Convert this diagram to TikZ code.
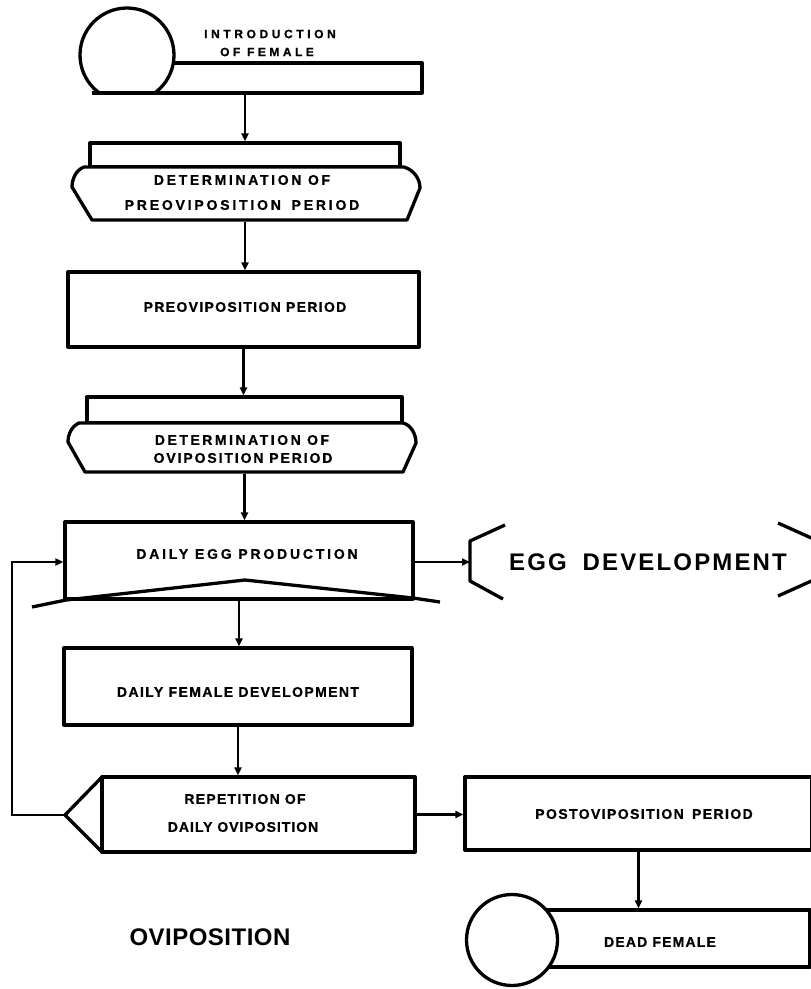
\documentclass[tikz,border=0pt]{standalone}
\usepackage{fontspec}
\newfontfamily\hvfont{Liberation Sans}[FakeBold=0.8]
\newfontfamily\hvbig{Liberation Sans}
\usetikzlibrary{arrows.meta}
% tracked (letter-spaced) caps
\newcommand\spc[2]{{\addfontfeature{LetterSpace=#1}#2}}

\begin{document}
\begin{tikzpicture}[x=1pt,y=-1pt,
  outline/.style={line width=3.3pt, line join=round},
  box/.style={outline, draw, fill=white, rectangle, inner sep=0pt, outer sep=1.65pt},
  frame/.style={rectangle, inner sep=0pt, outer sep=1.65pt},
  conn/.style={line width=2.8pt, -{Triangle[length=8pt,width=7pt]}},
  lbl/.style={font=\hvfont\bfseries\fontsize{14}{16}\selectfont, inner sep=0pt},
  smalllbl/.style={font=\hvfont\bfseries\fontsize{12}{14}\selectfont, inner sep=0pt},
  big/.style={font=\hvbig\bfseries\fontsize{24}{28}\selectfont, inner sep=0pt},
]
\useasboundingbox (0,0) rectangle (811,989);
\clip (0,0) rectangle (811,989);

% ---- introduction of female (terminal) ----
\node[box, minimum width=272pt, minimum height=30pt] (introbar) at (286,78) {};
\begin{scope}
  \clip (0,0) rectangle (811,93);
  \node[box, circle, minimum size=94pt] (introcirc) at (127,55) {};
\end{scope}
\draw[outline] (92,93) -- (422,93);
\node[smalllbl] (introA) at (270,34) {\spc{30}{INTRODUCTION}};
\node[smalllbl] (introB) at (267,52) {\spc{29}{OF FEMALE}};

% ---- determination of preoviposition period ----
\node[frame, minimum width=310pt, minimum height=77pt] (detA) at (245,181.5) {};
\draw[outline, fill=white] (90,143) rectangle (400,167);
\draw[outline, fill=white] (84,167) .. controls (76,170) and (72,179) .. (72,187)
  -- (92,220) -- (407,220) -- (420,188) .. controls (420,179) and (414,170) .. (404,167) -- cycle;
\node[lbl] (detA1) at (242,180) {\spc{19}{DETERMINATION OF}};
\node[lbl] (detA2) at (242,205) {\spc{20}{PREOVIPOSITION\hspace{4pt} PERIOD}};

% ---- preoviposition period ----
\node[box, minimum width=351pt, minimum height=75pt] (pre) at (243.5,309.5) {};
\node[lbl] (preT) at (245,307) {\spc{9.5}{PREOVIPOSITION PERIOD}};

% ---- determination of oviposition period ----
\node[frame, minimum width=315pt, minimum height=75pt] (detB) at (244.5,434.5) {};
\draw[outline, fill=white] (87,397) rectangle (402,423);
\draw[outline, fill=white] (79,423) .. controls (72,426) and (68,434) .. (68,442)
  -- (85,472) -- (403,472) -- (416,443) .. controls (416,434) and (411,425) .. (403,423) -- cycle;
\node[lbl] (detB1) at (242,440) {\spc{18}{DETERMINATION OF}};
\node[lbl] (detB2) at (243,458) {\spc{13.5}{OVIPOSITION PERIOD}};

% ---- daily egg production ----
\node[box, minimum width=348pt, minimum height=77pt] (egg) at (239,560.5) {};
\draw[outline] (32,607) -- (66,600) -- (245,580) -- (413,598) -- (440,602);
\node[lbl] (eggT) at (247,554) {\spc{20}{DAILY EGG PRODUCTION}};

% ---- egg development (off-page process) ----
\node[big] (eggdev) at (648,562) {\spc{9}{EGG\hspace{7pt} DEVELOPMENT}};
\coordinate (brL) at (470,562);
\draw[outline] (505,525) -- (470,541) -- (470,581) -- (503,599);
\draw[outline] (778,523) -- (818,541) -- (818,578) -- (778,596);

% ---- daily female development ----
\node[box, minimum width=348pt, minimum height=77pt] (fem) at (238,686.5) {};
\node[lbl] (femT) at (238,692) {\spc{10}{DAILY FEMALE DEVELOPMENT}};

% ---- repetition of daily oviposition (decision) ----
\node[box, minimum width=313pt, minimum height=75pt] (rep) at (258.5,814.5) {};
\coordinate (reptip) at (65,815);
\draw[outline] (102,777) -- (reptip) -- (102,852);
\node[lbl] (repA) at (245,799) {\spc{9}{REPETITION OF}};
\node[lbl] (repB) at (243,827) {\spc{7}{DAILY OVIPOSITION}};

% ---- postoviposition period ----
\node[box, minimum width=347pt, minimum height=73pt] (post) at (638.5,813.5) {};
\node[lbl] (postT) at (644,814) {\spc{10}{POSTOVIPOSITION\hspace{3pt} PERIOD}};

% ---- dead female (terminal) ----
\node[box, minimum width=272pt, minimum height=57pt] (dead) at (674,938.5) {};
\node[box, circle, minimum size=91pt] (deadcirc) at (512,940) {};
\node[lbl] (deadT) at (660,942) {\spc{8.5}{DEAD FEMALE}};

% ---- title ----
\node[big] (title) at (210,937) {\spc{2}{OVIPOSITION}};

% ---- connectors ----
\draw[conn] (introbar.south -| detA.north) -- (detA.north);
\draw[conn] (detA.south) -- (detA.south |- pre.north);
\draw[conn] (pre.south) -- (pre.south |- detB.north);
\draw[conn] (detB.south) -- (detB.south |- egg.north);
\draw[conn] (egg.south) -- (egg.south |- fem.north);
\draw[conn] (fem.south) -- (fem.south |- rep.north);
\draw[conn] (egg.east |- eggdev.center) -- (brL);
\coordinate (fbk) at (12,562);
\draw[conn] (reptip) -| (fbk) -- (fbk -| egg.west);
\draw[conn] (rep.east) -- (rep.east -| post.west);
\draw[conn] (post.south) -- (post.south |- dead.north);
\end{tikzpicture}
\end{document}
